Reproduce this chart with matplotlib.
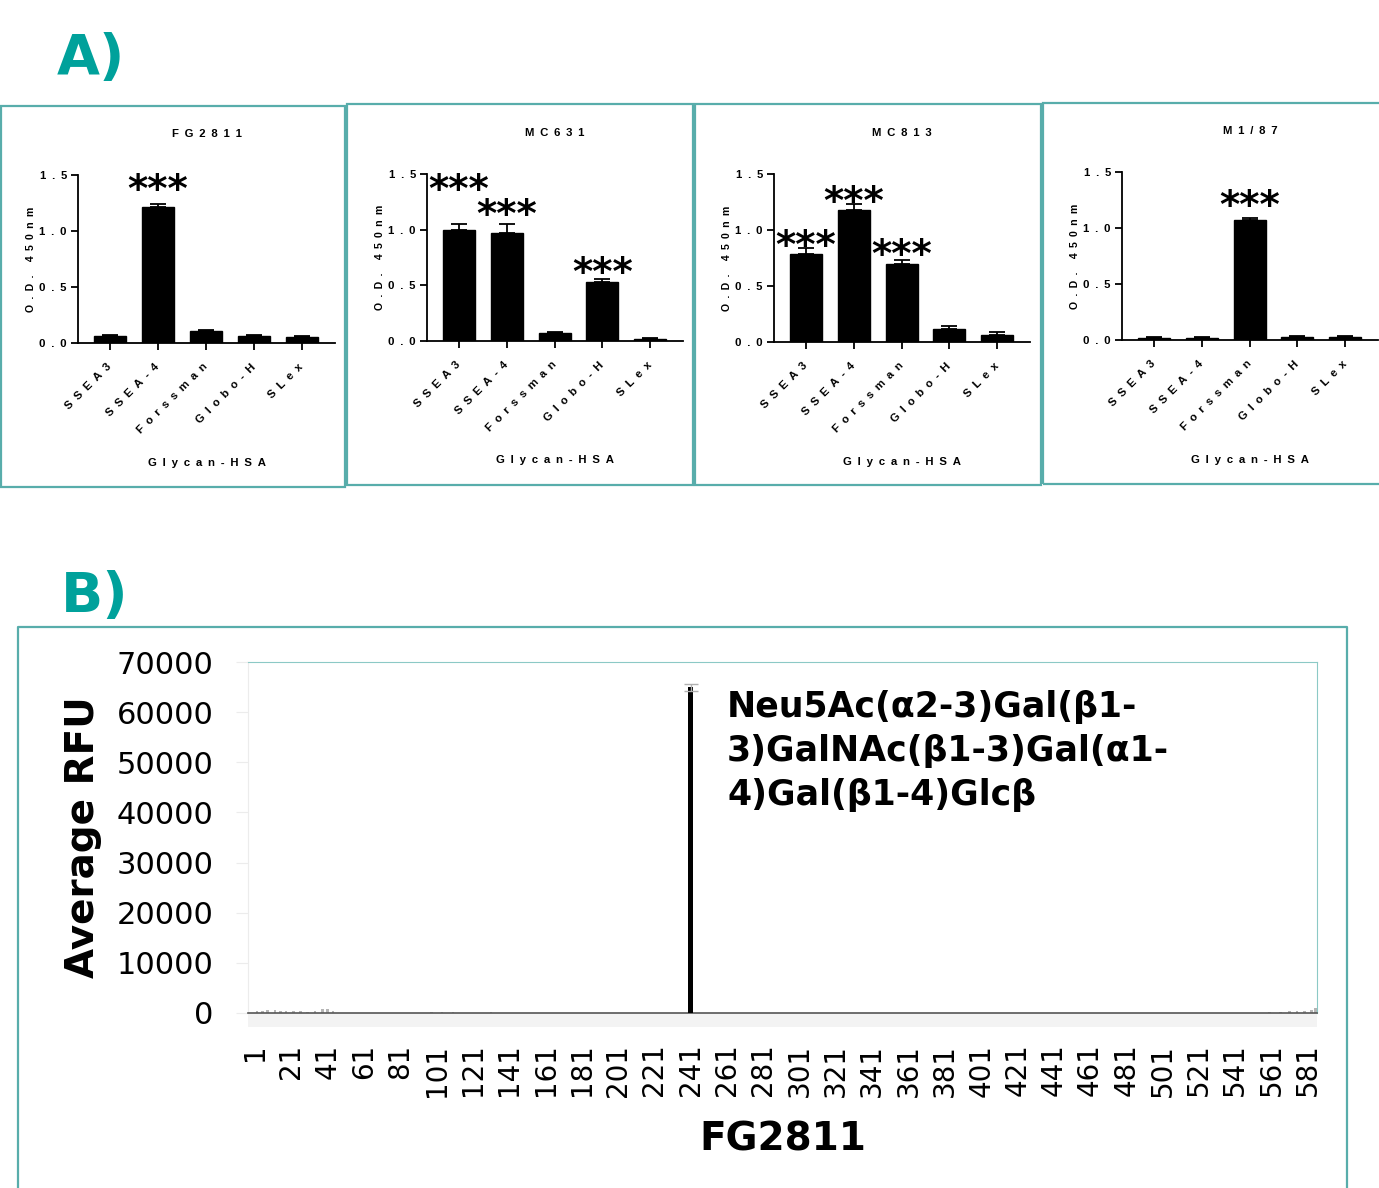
import matplotlib.pyplot as plt
import matplotlib.transforms as mtransforms
from matplotlib.patches import Rectangle
from matplotlib.lines import Line2D

# ---- panel A data (O.D. 450nm, mean and upper SEM) ----
glycans = ["SSEA3", "SSEA-4", "Forssman", "Globo-H", "SLex"]

fg2811_od = [0.06, 1.21, 0.11, 0.06, 0.05]
fg2811_err = [0.01, 0.03, 0.01, 0.01, 0.01]
fg2811_stars = {1: 1.43}

mc631_od = [1.00, 0.97, 0.07, 0.53, 0.02]
mc631_err = [0.05, 0.08, 0.01, 0.03, 0.01]
mc631_stars = {0: 1.42, 1: 1.20, 3: 0.68}

mc813_od = [0.79, 1.18, 0.70, 0.12, 0.06]
mc813_err = [0.05, 0.05, 0.03, 0.02, 0.03]
mc813_stars = {0: 0.92, 1: 1.32, 2: 0.84}

m187_od = [0.02, 0.02, 1.07, 0.03, 0.03]
m187_err = [0.01, 0.01, 0.02, 0.01, 0.01]
m187_stars = {2: 1.26}

# ---- panel B data (glycan array, FG2811) ----
n_glycans = 585
peak_idx = 241
peak_rfu = 65000
peak_err = 700
bump_idx = [2, 5, 8, 12, 15, 18, 22, 26, 30, 34, 38, 41, 44, 98, 104, 110, 131,
            560, 566, 571, 575, 579, 583, 585]
bump_rfu = [450, 380, 520, 610, 480, 400, 350, 300, 260, 420, 700, 820, 380,
            180, 220, 160, 150, 220, 260, 310, 380, 450, 600, 900]
x_ticks = list(range(1, 582, 20))
y_ticks = list(range(0, 70001, 10000))

TEAL = '#00a19b'
BOX = '#58adab'
AFONT = 'Liberation Sans'
AFS = 8.2
STAR_SIZE = 28


def spaced(s):
    # GraphPad-style letter spacing (en space between letters)
    return '\u2002'.join(s)


def elisa_panel(fig, rect, title, od, err, stars):
    ax = fig.add_axes(rect)
    x = list(range(len(glycans)))
    ax.bar(x, od, width=0.67, color='black', edgecolor='black', zorder=2)
    ax.errorbar(x, od, yerr=[[0] * len(err), err], fmt='none', ecolor='black',
                elinewidth=1.3, capsize=6, capthick=1.3, zorder=3)
    # asterisk glyph sits high in the em box, shift so level = visual centre
    star_off = mtransforms.ScaledTranslation(0, -0.5 * STAR_SIZE / 72,
                                             fig.dpi_scale_trans)
    for i, lvl in stars.items():
        ax.text(i, lvl, '***', ha='center', va='baseline', fontsize=STAR_SIZE,
                fontweight='bold', family='DejaVu Sans',
                transform=ax.transData + star_off)
    ax.set_xlim(-0.67, 4.69)
    ax.set_ylim(0, 1.5)
    ax.set_yticks([0, 0.5, 1.0, 1.5])
    ax.set_yticklabels([spaced(f"{v:.1f}") for v in [0, 0.5, 1.0, 1.5]],
                       family=AFONT, fontweight='bold', fontsize=AFS)
    ax.set_xticks(x)
    ax.set_xticklabels([spaced(g) for g in glycans], rotation=45, ha='right',
                       va='center', rotation_mode='anchor',
                       family=AFONT, fontweight='bold', fontsize=AFS)
    ax.tick_params(axis='both', direction='out', length=5, width=1.3)
    ax.tick_params(axis='x', pad=11)
    ax.tick_params(axis='y', pad=3)
    for s in ['top', 'right']:
        ax.spines[s].set_visible(False)
    for s in ['left', 'bottom']:
        ax.spines[s].set_linewidth(1.3)
    ax.set_ylabel(spaced("O.D. 450nm"), family=AFONT, fontweight='bold',
                  fontsize=7.6, labelpad=2)
    ax.text(0.5, 1.244, spaced(title), transform=ax.transAxes, ha='center',
            va='center', family=AFONT, fontweight='bold', fontsize=AFS)
    ax.text(0.5, -0.714, spaced("Glycan-HSA"), transform=ax.transAxes,
            ha='center', va='center', family=AFONT, fontweight='bold',
            fontsize=AFS)
    return ax


fig = plt.figure(figsize=(13.79, 11.88), dpi=100)

W, H = 1379.0, 1188.0


def fx(px):
    return px / W


def fy(py):
    return 1 - py / H


# panel A boxes (pixel coords: left, top, right, bottom)
boxes = [(1, 106, 345, 487), (347, 104, 693, 485), (695, 104, 1041, 485),
         (1043, 103, 1382, 484)]
for l, t, r, b in boxes:
    fig.add_artist(Rectangle((fx(l), fy(b)), fx(r) - fx(l), fy(t) - fy(b),
                             transform=fig.transFigure, fill=False,
                             edgecolor=BOX, linewidth=1.6))

axes_px = [(78, 175, 335, 343), (427, 174, 683, 341), (774, 174, 1030, 342),
           (1122, 172, 1378, 340)]
panels = [("FG2811", fg2811_od, fg2811_err, fg2811_stars),
          ("MC631", mc631_od, mc631_err, mc631_stars),
          ("MC813", mc813_od, mc813_err, mc813_stars),
          ("M1/87", m187_od, m187_err, m187_stars)]
for (l, t, r, b), (name, od, err, st) in zip(axes_px, panels):
    elisa_panel(fig, [fx(l), fy(b), fx(r) - fx(l), fy(t) - fy(b)],
                name, od, err, st)

fig.text(fx(57), fy(59), "A)", color=TEAL, fontsize=40, fontweight='bold',
         family='DejaVu Sans', ha='left', va='center')
fig.text(fx(61), fy(597), "B)", color=TEAL, fontsize=40, fontweight='bold',
         family='DejaVu Sans', ha='left', va='center')

# panel B outer box (bottom edge is cut off)
fig.add_artist(Line2D([fx(18), fx(18), fx(1347), fx(1347)],
                      [0, fy(627), fy(627), 0], transform=fig.transFigure,
                      color=BOX, linewidth=1.6))

axb = fig.add_axes([fx(248), fy(1013), fx(1317) - fx(248), fy(662) - fy(1013)])
axb.bar(bump_idx, bump_rfu, width=1.5, color='#b5b5b5', zorder=2)
axb.bar([peak_idx], [peak_rfu], width=3.0, color='black', zorder=3)
axb.errorbar([peak_idx], [peak_rfu], yerr=[[peak_err], [peak_err]], fmt='none',
             ecolor='#b0b0b0', elinewidth=1, capsize=5, zorder=4)
axb.set_xlim(-2.9, 586)
axb.set_ylim(0, 70000)
axb.set_yticks(y_ticks)
axb.set_yticklabels([str(v) for v in y_ticks], fontsize=22,
                    family='DejaVu Sans')
axb.set_xticks(x_ticks)
axb.set_xticklabels([str(v) for v in x_ticks], rotation=90, fontsize=20,
                    family='DejaVu Sans')
axb.tick_params(axis='y', direction='out', length=9, color='#ececec', pad=16)
axb.tick_params(axis='x', length=0, pad=22)
axb.spines['left'].set_color('#ececec')
axb.spines['bottom'].set_color('#555555')
axb.spines['bottom'].set_linewidth(1.2)
axb.spines['top'].set_color('#8cc9c6')
axb.spines['right'].set_color('#8cc9c6')
axb.add_patch(Rectangle((0, -0.04), 1, 0.04, transform=axb.transAxes,
                        facecolor='#f3f3f3', edgecolor='none', clip_on=False))
axb.set_ylabel("Average RFU", fontsize=28, fontweight='bold',
               family='DejaVu Sans', labelpad=10)
axb.set_xlabel("FG2811", fontsize=28, fontweight='bold', family='DejaVu Sans',
               labelpad=17)
axb.text(peak_idx + 20, 64500,
         "Neu5Ac(\u03b12-3)Gal(\u03b21-\n3)GalNAc(\u03b21-3)Gal(\u03b11-\n4)Gal(\u03b21-4)Glc\u03b2",
         fontsize=25, fontweight='bold', family='DejaVu Sans', va='top',
         ha='left', linespacing=1.38)

fig.savefig("out.png", dpi=100)
